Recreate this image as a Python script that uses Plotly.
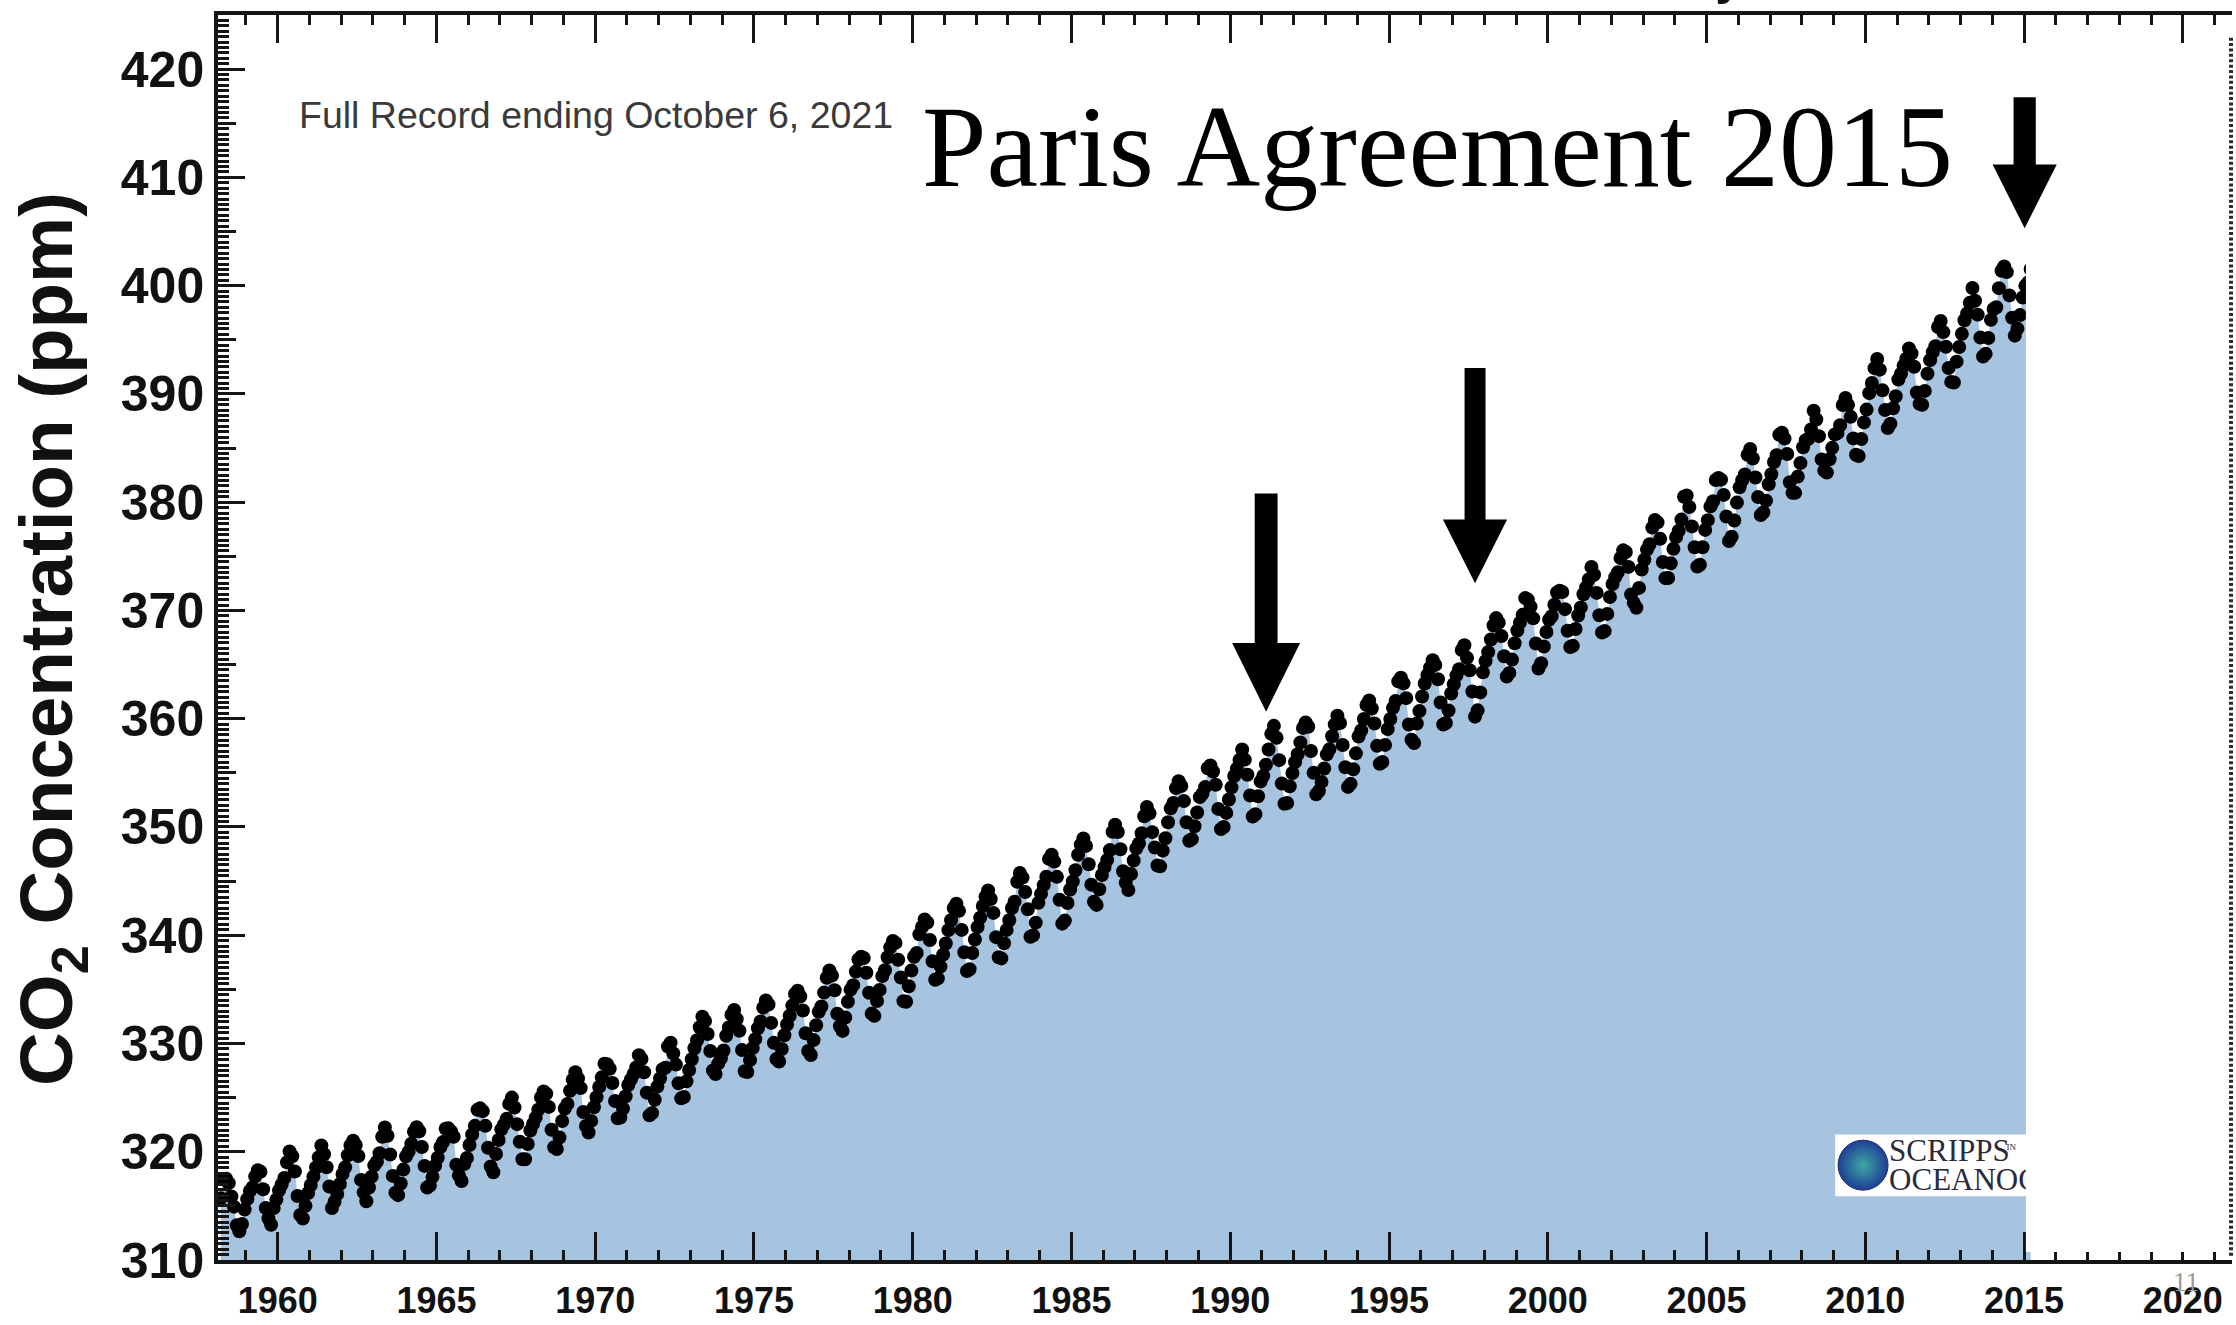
import plotly.graph_objects as go
import pandas as pd

# ---------------- DATA (monthly mean CO2, ppm, Mauna Loa) ----------------
co2_1958_1969 = [
    315.71, 317.45, 317.50, 317.10, 315.86, 314.93, 313.20, 312.66, 313.33, 314.67,
    315.62, 316.38, 316.71, 317.72, 318.29, 318.15, 316.54, 314.80, 313.84, 313.26, 314.80, 315.58,
    316.43, 316.97, 317.58, 319.02, 320.03, 319.59, 318.18, 315.91, 314.16, 313.83, 315.00, 316.19,
    316.93, 317.70, 318.54, 319.48, 320.58, 319.77, 318.57, 316.79, 314.80, 315.38, 316.10, 317.01,
    317.94, 318.56, 319.68, 320.57, 321.02, 320.62, 319.61, 317.40, 316.25, 315.42, 316.69, 317.70,
    318.74, 319.07, 319.86, 321.38, 322.25, 321.48, 319.74, 317.77, 316.21, 315.99, 317.07, 318.35,
    319.57, 320.01, 320.74, 321.84, 322.26, 321.89, 320.44, 318.69, 316.70, 316.87, 317.68, 318.71,
    319.44, 320.44, 320.89, 322.13, 322.16, 321.87, 321.39, 318.80, 317.81, 317.30, 318.87, 319.42,
    320.62, 321.59, 322.39, 323.87, 324.01, 323.75, 322.39, 320.37, 318.64, 318.10, 319.79, 321.08,
    322.07, 322.50, 323.04, 324.42, 325.00, 324.09, 322.55, 320.92, 319.31, 319.31, 320.72, 321.96,
    322.57, 323.15, 323.89, 325.02, 325.57, 325.36, 324.14, 322.03, 320.41, 320.25, 321.31, 322.84,
    324.00, 324.42, 325.64, 326.66, 327.34, 326.76, 325.88, 323.67, 322.38, 321.78, 322.85, 324.11,
]
co2_1970s = [
    325.03, 325.99, 326.87, 328.13, 328.07, 327.66, 326.35, 324.69, 323.10, 323.16, 323.98, 325.13,
    326.17, 326.68, 327.18, 327.78, 328.92, 328.57, 327.34, 325.46, 323.36, 323.57, 324.80, 326.01,
    326.77, 327.63, 327.75, 329.72, 330.07, 329.09, 328.05, 326.32, 324.93, 325.06, 326.50, 327.55,
    328.54, 329.56, 330.30, 331.50, 332.48, 332.07, 330.87, 329.31, 327.51, 327.18, 328.16, 328.64,
    329.35, 330.71, 331.48, 332.65, 333.09, 332.25, 331.18, 329.40, 327.43, 327.37, 328.46, 329.57,
    330.40, 331.40, 332.04, 333.31, 333.97, 333.60, 331.90, 330.06, 328.56, 328.34, 329.49, 330.76,
    331.75, 332.56, 333.50, 334.58, 334.87, 334.34, 333.05, 330.94, 329.30, 328.94, 330.31, 331.68,
    332.93, 333.42, 334.70, 336.07, 336.75, 336.27, 334.92, 332.75, 331.59, 331.16, 332.40, 333.85,
    334.97, 335.39, 336.64, 337.76, 338.01, 337.89, 336.54, 334.68, 332.76, 332.55, 333.92, 334.95,
    336.23, 336.76, 337.96, 338.88, 339.47, 339.29, 337.73, 336.09, 333.91, 333.86, 335.29, 336.73,
]
co2_1980s = [
    338.01, 338.36, 340.08, 340.77, 341.46, 341.17, 339.56, 337.60, 335.88, 336.01, 337.10, 338.21,
    339.23, 340.47, 341.38, 342.51, 342.91, 342.25, 340.49, 338.43, 336.69, 336.86, 338.36, 339.61,
    340.75, 341.61, 342.70, 343.56, 344.13, 343.35, 342.06, 339.82, 337.97, 337.86, 339.26, 340.49,
    341.38, 342.52, 343.10, 344.94, 345.75, 345.32, 343.99, 342.39, 339.86, 339.99, 341.16, 342.99,
    343.82, 344.63, 345.40, 347.05, 347.43, 346.80, 345.39, 343.28, 341.07, 341.35, 342.98, 344.22,
    344.97, 346.00, 347.43, 348.35, 348.93, 348.25, 346.56, 344.67, 343.09, 342.80, 344.24, 345.56,
    346.29, 346.96, 347.86, 349.55, 350.21, 349.54, 347.94, 345.91, 344.86, 344.17, 345.66, 346.90,
    348.02, 348.47, 349.42, 350.99, 351.84, 351.25, 349.52, 348.10, 346.44, 346.36, 347.81, 348.96,
    350.43, 351.72, 352.22, 353.59, 354.22, 353.79, 352.39, 350.44, 348.72, 348.88, 350.07, 351.34,
    352.76, 353.07, 353.68, 355.42, 355.67, 355.12, 353.90, 351.67, 349.80, 349.99, 351.30, 352.53,
]
co2_1990s = [
    353.66, 354.70, 355.39, 356.20, 357.16, 356.22, 354.82, 352.91, 350.96, 351.18, 352.83, 354.21,
    354.72, 355.75, 357.16, 358.60, 359.34, 358.24, 356.17, 354.02, 352.15, 352.21, 353.75, 354.99,
    355.99, 356.72, 357.81, 359.15, 359.66, 359.25, 357.02, 355.00, 353.01, 353.31, 354.16, 355.40,
    356.70, 357.17, 358.38, 359.46, 360.28, 359.60, 357.57, 355.52, 353.70, 353.98, 355.33, 356.80,
    358.36, 358.91, 359.97, 361.26, 361.69, 360.94, 359.55, 357.49, 355.84, 356.00, 357.58, 359.04,
    359.97, 361.00, 361.64, 363.45, 363.79, 363.26, 361.90, 359.46, 358.06, 357.75, 359.56, 360.70,
    362.05, 363.25, 364.03, 364.72, 365.41, 364.97, 363.65, 361.49, 359.46, 359.60, 360.76, 362.33,
    363.18, 364.00, 364.57, 366.35, 366.79, 365.62, 364.47, 362.51, 360.19, 360.77, 362.43, 364.28,
    365.32, 366.15, 367.31, 368.61, 369.29, 368.87, 367.64, 365.77, 363.90, 364.23, 365.46, 366.97,
    368.15, 368.87, 369.59, 371.14, 371.00, 370.35, 369.27, 366.94, 364.63, 365.12, 366.67, 368.01,
]
co2_2000s = [
    369.14, 369.46, 370.52, 371.66, 371.82, 371.70, 370.12, 368.12, 366.62, 366.73, 368.29, 369.53,
    370.28, 371.50, 372.12, 372.87, 374.02, 373.30, 371.62, 369.55, 367.96, 368.09, 369.68, 371.24,
    372.44, 373.08, 373.52, 374.85, 375.55, 375.40, 374.02, 371.48, 370.70, 370.25, 372.08, 373.78,
    374.68, 375.62, 376.11, 377.65, 378.35, 378.13, 376.61, 374.48, 372.98, 373.00, 374.35, 375.69,
    376.79, 377.36, 378.39, 380.50, 380.62, 379.55, 377.76, 375.83, 374.05, 374.22, 375.84, 377.44,
    378.34, 379.61, 380.08, 382.05, 382.24, 382.08, 380.67, 378.67, 376.42, 376.80, 378.31, 379.96,
    381.37, 382.02, 382.56, 384.37, 384.92, 384.03, 382.28, 380.48, 378.81, 379.06, 380.14, 381.66,
    382.58, 383.71, 384.34, 386.23, 386.41, 385.87, 384.45, 381.84, 380.86, 380.86, 382.36, 383.61,
    385.07, 385.72, 385.85, 386.71, 388.45, 387.64, 386.10, 383.95, 382.91, 382.73, 383.96, 385.02,
    386.26, 386.39, 387.11, 388.98, 389.63, 388.99, 387.88, 385.89, 384.38, 384.26, 385.84, 387.37,
]
co2_2010s = [
    388.55, 390.07, 391.01, 392.38, 393.22, 392.24, 390.33, 388.52, 386.84, 387.24, 388.67, 389.79,
    391.33, 391.86, 392.60, 393.25, 394.19, 393.73, 392.51, 390.13, 389.08, 389.00, 390.28, 391.86,
    393.12, 393.86, 394.40, 396.18, 396.74, 395.71, 394.36, 392.39, 391.11, 391.05, 392.98, 394.34,
    395.55, 396.80, 397.43, 398.41, 399.78, 398.60, 397.32, 395.20, 393.45, 393.70, 395.16, 396.84,
    397.85, 398.01, 399.77, 401.38, 401.78, 401.25, 399.10, 397.03, 395.38, 396.03, 397.28, 398.91,
    399.98, 400.28, 401.54,
]
first_month = "1958-03-01"

x_tick_labels = ["1960", "1965", "1970", "1975", "1980", "1985", "1990", "1995",
                 "2000", "2005", "2010", "2015", "2020"]
y_tick_labels = ["310", "320", "330", "340", "350", "360", "370", "380", "390", "400", "410", "420"]

# ---------------- STYLE ----------------
AX = "#151515"
FILL = "#a6c3e0"
SANS = "Liberation Sans, Arial, Helvetica, sans-serif"
SERIF = "Liberation Serif, Times New Roman, serif"

co2 = co2_1958_1969 + co2_1970s + co2_1980s + co2_1990s + co2_2000s + co2_2010s
months = pd.date_range(first_month, periods=len(co2), freq="MS")
t = list(months.year + (months.month - 0.5) / 12.0)

X_RANGE = [1958.12, 2021.55]
Y_RANGE = [310, 425]

fig = go.Figure()
# blue area under the record
fig.add_trace(go.Scatter(x=t, y=co2, mode="lines", line=dict(width=0, color=FILL),
                         fill="tozeroy", fillcolor=FILL, hoverinfo="skip", showlegend=False))
# monthly dots
fig.add_trace(go.Scatter(x=t, y=co2, mode="markers",
                         marker=dict(size=14, color="black", line=dict(width=0)),
                         showlegend=False))

# Scripps logo (decoration)
LOGO_X = [2009.05, 2015.2]
LOGO_Y = [315.9, 321.6]
fig.add_trace(go.Scatter(x=[LOGO_X[0], LOGO_X[1], LOGO_X[1], LOGO_X[0], LOGO_X[0]],
                         y=[LOGO_Y[0], LOGO_Y[0], LOGO_Y[1], LOGO_Y[1], LOGO_Y[0]],
                         mode="lines", fill="toself", fillcolor="white",
                         line=dict(width=0, color="white"), hoverinfo="skip", showlegend=False))
fig.add_trace(go.Scatter(x=[2009.93], y=[318.76], mode="markers",
                         marker=dict(size=50, color="#1d3f95",
                                     gradient=dict(type="radial", color="#3fa7a6"),
                                     line=dict(width=1, color="#2a2a6a")),
                         hoverinfo="skip", showlegend=False))
fig.add_trace(go.Scatter(x=[2010.75, 2010.75], y=[319.85, 317.2], mode="text",
                         text=["SCRIPPS", "OCEANOGRAPHY"], textposition="middle right",
                         textfont=dict(family=SERIF, size=31, color="#2a2a3a"),
                         hoverinfo="skip", showlegend=False))
fig.add_trace(go.Scatter(x=[2014.45], y=[320.4], mode="text", text=["IN"],
                         textposition="middle right",
                         textfont=dict(family=SERIF, size=9, color="#2a2a3a"),
                         hoverinfo="skip", showlegend=False))

# dummy trace for the medium (5 ppm) tick axis
fig.add_trace(go.Scatter(x=[None], y=[None], yaxis="y2", showlegend=False, hoverinfo="skip"))

shapes = []
# white box covering the record after 2015
shapes.append(dict(type="rect", xref="x", yref="y", x0=2015.06, x1=2021.47, y0=310.75, y1=421.5,
                   fillcolor="white", line=dict(width=0), layer="above"))
# dotted right edge
shapes.append(dict(type="line", xref="paper", yref="y", x0=0.9995, x1=0.9995, y0=310.4, y1=423,
                   line=dict(color="#2b2b2b", width=4, dash="3px,2.4px"), layer="above"))

# arrows (annotation geometry)
ARROWS = [
    dict(x=1991.13, top=380.8, head=367.0, tip=360.65, sw=0.36, hw=1.07),
    dict(x=1997.71, top=392.4, head=378.4, tip=372.5, sw=0.33, hw=1.01),
    dict(x=2015.02, top=417.4, head=411.2, tip=405.3, sw=0.35, hw=1.01),
]
for a in ARROWS:
    x, sw, hw = a["x"], a["sw"], a["hw"]
    path = (f"M {x - sw},{a['top']} L {x + sw},{a['top']} L {x + sw},{a['head']} "
            f"L {x + hw},{a['head']} L {x},{a['tip']} L {x - hw},{a['head']} "
            f"L {x - sw},{a['head']} Z")
    shapes.append(dict(type="path", xref="x", yref="y", path=path,
                       fillcolor="black", line=dict(width=0), layer="above"))

annotations = [
    dict(text="Full Record ending October 6, 2021", xref="paper", yref="paper",
         x=0.0392, y=0.9197, xanchor="left", yanchor="middle", showarrow=False,
         font=dict(family=SANS, size=37.5, color="#3a3a3a")),
    dict(text="Paris Agreement 2015", xref="paper", yref="paper",
         x=0.6053, y=0.894, xanchor="center", yanchor="middle", showarrow=False,
         font=dict(family=SERIF, size=116, color="black")),
    dict(text="CO<sub>2</sub> Concentration (ppm)", xref="paper", yref="paper",
         x=-0.0822, y=0.4992, xanchor="center", yanchor="middle", textangle=-90,
         showarrow=False, font=dict(family=SANS, size=74.5, color="#111", weight="bold")),
    dict(text="11", xref="paper", yref="paper", x=0.977, y=-0.0177,
         xanchor="center", yanchor="middle", showarrow=False,
         font=dict(family=SERIF, size=27, color="#9a9a9a")),
    dict(text="Carbon Dioxide Concentration at Mauna Loa Observatory", xref="paper", yref="paper",
         x=0.758, y=1.0064, xanchor="right", yanchor="bottom", showarrow=False,
         font=dict(family=SANS, size=50, color="#111", weight="bold")),
]

fig.update_layout(
    width=2236, height=1325,
    margin=dict(l=218, r=4, t=15, b=65, autoexpand=False),
    paper_bgcolor="white", plot_bgcolor="white",
    showlegend=False,
    shapes=shapes, annotations=annotations,
    xaxis=dict(range=X_RANGE, tickmode="array", automargin=False,
               tickvals=[int(v) for v in x_tick_labels], ticktext=x_tick_labels,
               ticks="inside", ticklen=28, tickwidth=3, tickcolor=AX,
               showline=True, linewidth=4, linecolor=AX, mirror="ticks",
               showgrid=False, zeroline=False, ticklabelstandoff=6,
               tickfont=dict(family=SANS, size=36, color="#111", weight="bold"),
               minor=dict(dtick=1, tick0=1960, ticks="inside", ticklen=10,
                          tickwidth=3, tickcolor=AX, showgrid=False)),
    yaxis=dict(range=Y_RANGE, tickmode="array", automargin=False,
               tickvals=[int(v) for v in y_tick_labels], ticktext=y_tick_labels,
               ticks="inside", ticklen=27, tickwidth=3, tickcolor=AX,
               showline=True, linewidth=3.5, linecolor=AX, mirror=False,
               showgrid=False, zeroline=False, ticklabelstandoff=0,
               tickfont=dict(family=SANS, size=50, color="#111", weight="bold"),
               minor=dict(dtick=0.5, tick0=310, ticks="inside", ticklen=11,
                          tickwidth=2.5, tickcolor=AX, showgrid=False)),
    yaxis2=dict(range=Y_RANGE, overlaying="y", side="left", anchor="x", automargin=False,
                tickmode="array", tickvals=[315, 325, 335, 345, 355, 365, 375, 385, 395, 405, 415],
                ticks="inside", ticklen=18, tickwidth=3, tickcolor=AX,
                showticklabels=False, showgrid=False, showline=False, zeroline=False),
)

fig.write_html("out.html", config={"displayModeBar": False},
               post_script="document.body.style.margin='0';document.body.style.overflow='hidden';")
